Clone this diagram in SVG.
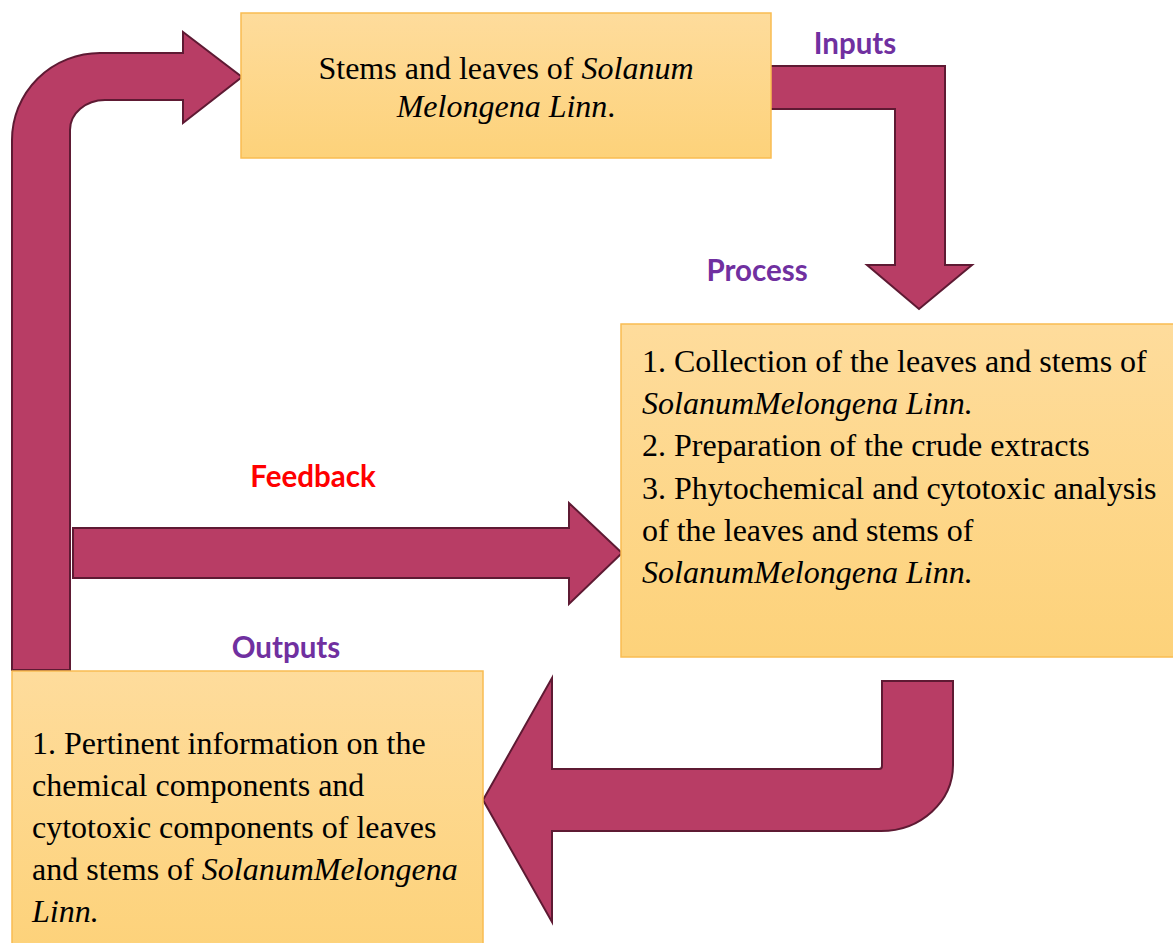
<svg xmlns="http://www.w3.org/2000/svg" width="1173" height="943" viewBox="0 0 1173 943">
<defs>
<linearGradient id="boxg" x1="0" y1="0" x2="0" y2="1">
<stop offset="0" stop-color="#FEDC9C"/>
<stop offset="1" stop-color="#FDD27A"/>
</linearGradient>
<style>
.box{fill:url(#boxg);stroke:#F9BC52;stroke-width:1.5}
.arrow{fill:#B83D65;stroke:#5E1A33;stroke-width:2;stroke-linejoin:miter}
.body{font-family:"Liberation Serif","Times New Roman",serif;font-size:32px;fill:#000}
.lbl{font-family:"Lato","Open Sans",sans-serif;font-weight:bold;font-size:29.5px;fill:#7030A0;text-anchor:middle}
.red{fill:#FF0000}
</style>
</defs>
<rect width="1173" height="943" fill="#fff"/>
<g id="connectors">
<path class="arrow" d="M12 670 L12 140 A88 87 0 0 1 100 53 L183 53 L183 32 L242 77 L183 123 L183 100 L105 100 A35 30 0 0 0 70 130 L70 670 Z"/>
<path class="arrow" d="M770 66 L945 66 L945 265 L972 265 L919 309 L867 265 L895 265 L895 109 L770 109 Z"/>
<path class="arrow" d="M73 528 L569 528 L569 503 L622 553 L569 604 L569 578 L73 578 Z"/>
<path class="arrow" d="M953 681 L953 765 A72 66 0 0 1 881 831 L552 831 L552 922 L483 800 L552 678 L552 769 L879 769 Q882 769 882 766 L882 681 Z"/>
</g>
<g id="inputs">
<rect class="box" x="241" y="13" width="530" height="145"/>
<text class="body" x="506" y="79" text-anchor="middle">Stems and leaves of <tspan font-style="italic">Solanum</tspan></text>
<text class="body" x="506" y="117" text-anchor="middle"><tspan font-style="italic">Melongena Linn</tspan>.</text>
</g>
<g id="process">
<rect class="box" x="621" y="324" width="555" height="333"/>
<text class="body" x="642" y="372">1. Collection of the leaves and stems of</text>
<text class="body" x="642" y="414" font-style="italic">SolanumMelongena Linn.</text>
<text class="body" x="642" y="456">2. Preparation of the crude extracts</text>
<text class="body" x="642" y="499">3. Phytochemical and cytotoxic analysis</text>
<text class="body" x="642" y="541">of the leaves and stems of</text>
<text class="body" x="642" y="583" font-style="italic">SolanumMelongena Linn.</text>
</g>
<g id="outputs">
<rect class="box" x="12" y="671" width="471" height="280"/>
<text class="body" x="32" y="754">1. Pertinent information on the</text>
<text class="body" x="32" y="796">chemical components and</text>
<text class="body" x="32" y="838">cytotoxic components of leaves</text>
<text class="body" x="32" y="880">and stems of <tspan font-style="italic">SolanumMelongena</tspan></text>
<text class="body" x="32" y="922" font-style="italic">Linn.</text>
</g>
<g id="labels">
<text class="lbl" x="855" y="54">Inputs</text>
<text class="lbl" x="757" y="281">Process</text>
<text class="lbl red" x="313" y="487">Feedback</text>
<text class="lbl" x="286" y="658">Outputs</text>
</g>
</svg>
